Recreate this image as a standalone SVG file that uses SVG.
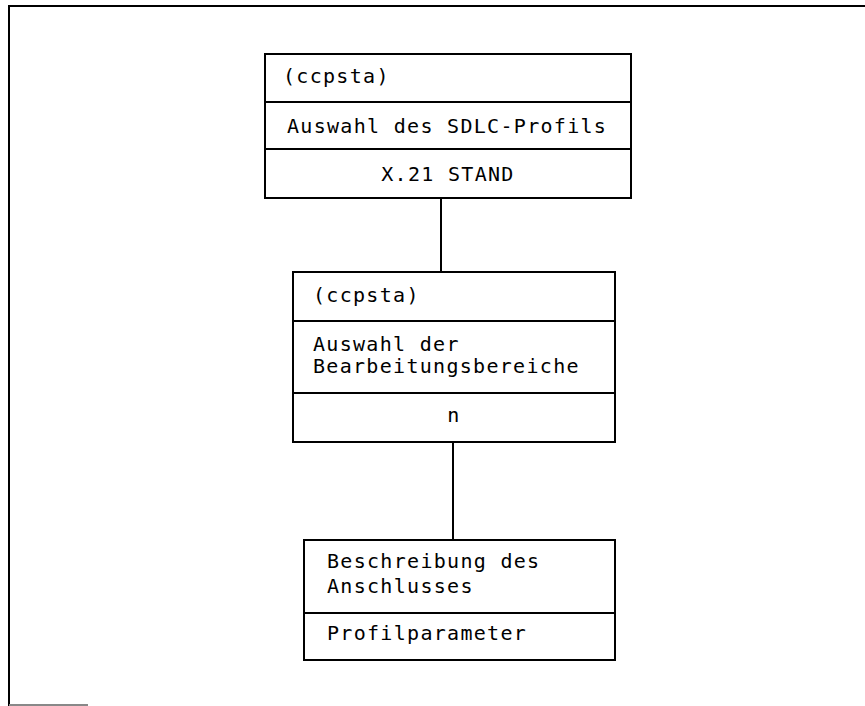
<svg xmlns="http://www.w3.org/2000/svg" width="865" height="706" viewBox="0 0 865 706">
<style>
.box{fill:#fff;stroke:#000;stroke-width:2}
.ln{stroke:#000;stroke-width:2;fill:none}
text{font-family:"DejaVu Sans Mono","Liberation Mono",monospace;font-size:20px;letter-spacing:1.3px;fill:#000}
.c{text-anchor:middle}
</style>
<rect width="865" height="706" fill="#fff"/>
<g id="frame">
<path class="ln" d="M9,706 V6 H865"/>
<path stroke="#888" stroke-width="2" d="M9,705 H88"/>
</g>
<g id="connectors">
<line class="ln" x1="441" y1="198" x2="441" y2="272"/>
<line class="ln" x1="453" y1="442" x2="453" y2="540"/>
</g>
<g id="node1">
<rect class="box" x="265" y="54" width="366" height="144"/>
<line class="ln" x1="265" y1="102" x2="631" y2="102"/>
<line class="ln" x1="265" y1="149" x2="631" y2="149"/>
<text x="283" y="83">(ccpsta)</text>
<text x="287" y="133">Auswahl des SDLC-Profils</text>
<text class="c" x="448" y="181">X.21 STAND</text>
</g>
<g id="node2">
<rect class="box" x="293" y="272" width="322" height="170"/>
<line class="ln" x1="293" y1="321" x2="615" y2="321"/>
<line class="ln" x1="293" y1="393" x2="615" y2="393"/>
<text x="313" y="302">(ccpsta)</text>
<text x="313" y="351">Auswahl der</text>
<text x="313" y="373">Bearbeitungsbereiche</text>
<text class="c" x="454" y="422">n</text>
</g>
<g id="node3">
<rect class="box" x="304" y="540" width="311" height="120"/>
<line class="ln" x1="304" y1="613" x2="615" y2="613"/>
<text x="327" y="568">Beschreibung des</text>
<text x="327" y="593">Anschlusses</text>
<text x="327" y="640">Profilparameter</text>
</g>
</svg>
